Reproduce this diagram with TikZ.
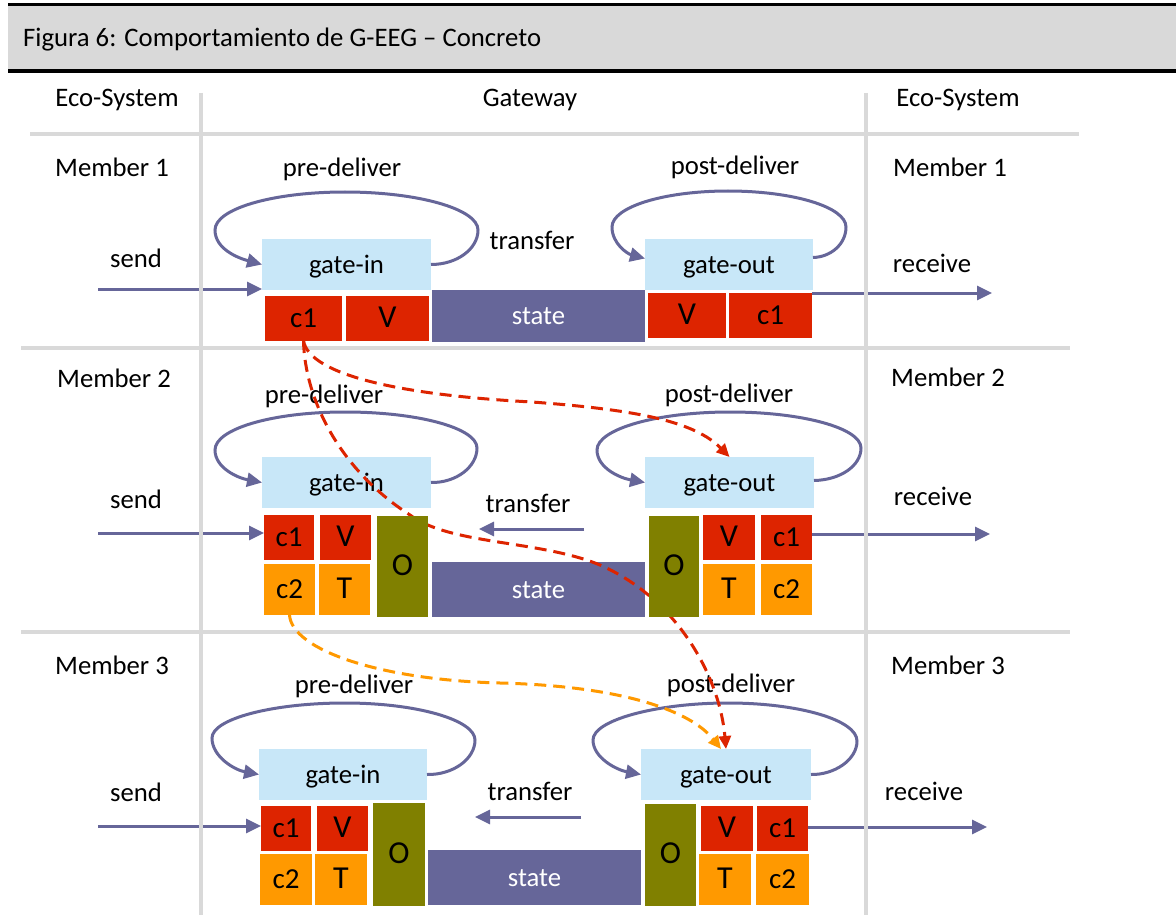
\documentclass[tikz,border=0pt]{standalone}
\usepackage{fontspec}
\setmainfont{Carlito}
\usetikzlibrary{arrows.meta}
\definecolor{cred}{RGB}{221,36,0}
\definecolor{corange}{RGB}{255,153,0}
\definecolor{colive}{RGB}{128,128,0}
\definecolor{cstate}{RGB}{102,102,153}
\definecolor{cblue}{RGB}{200,231,248}
\definecolor{cgray}{RGB}{217,217,217}
\definecolor{carrow}{RGB}{102,102,153}
\newcommand{\fs}{\fontsize{26.7}{30}\selectfont}
\newcommand{\fsb}{\fontsize{29}{33}\selectfont}
\newcommand{\fsc}{\fontsize{32}{36}\selectfont}
\newcommand{\mybox}[7]{\node[box,fill=#6,minimum width={#4pt-#2pt},minimum height={#5pt-#3pt}] (#1) at ({(#2+#4)/2},{(#3+#5)/2}) {#7};}
\begin{document}
\begin{tikzpicture}[x=1pt,y=-1pt,
  box/.style={inner sep=0pt, outer sep=0pt, font=\fs, text height=17pt, text depth=0pt, anchor=center},
  lbl/.style={inner sep=0pt, font=\fs, anchor=base},
  arr/.style={draw=carrow, line width=3pt, -{Triangle[length=15pt,width=14pt]}},
  sep/.style={draw=cgray, line width=3.5pt},
  dsh/.style={line width=3pt, dash pattern=on 12pt off 7pt, -{Triangle[length=13pt,width=12pt]}},
]
\fill[white] (0,0) rectangle (1176,915);
\useasboundingbox (0,0) rectangle (1176,915);
% header
\fill[cgray] (8,5) rectangle (1176,71);
\draw[line width=3pt] (8,5) -- (1176,5);
\draw[line width=3.5pt] (8,71) -- (1176,71);
\node[lbl, anchor=base west] (title) at (23,47) {Figura 6: Comportamiento de G-EEG – Concreto};
% headings
\node[lbl] (ecoL) at (117,107) {Eco-System};
\node[lbl] (gw) at (530,107) {Gateway};
\node[lbl] (ecoR) at (958,107) {Eco-System};
% row 1 labels
\node[lbl] (m1L) at (112,177) {Member 1};
\node[lbl] (m1R) at (950,177) {Member 1};
\node[lbl] (pre1) at (342,176) {pre-deliver};
\node[lbl] (post1) at (735,175) {post-deliver};
\node[lbl] (tr1) at (532,249) {transfer};
\node[lbl] (send1) at (136,267) {send};
\node[lbl] (rec1) at (932,272) {receive};
% row 2 labels
\node[lbl] (m2L) at (114,387) {Member 2};
\node[lbl] (m2R) at (948,386) {Member 2};
\node[lbl] (pre2) at (324,403) {pre-deliver};
\node[lbl] (post2) at (729,402) {post-deliver};
\node[lbl] (tr2) at (528,512) {transfer};
\node[lbl] (send2) at (136,508) {send};
\node[lbl] (rec2) at (933,505) {receive};
% row 3 labels
\node[lbl] (m3L) at (112,674) {Member 3};
\node[lbl] (m3R) at (948,674) {Member 3};
\node[lbl] (pre3) at (354,693) {pre-deliver};
\node[lbl] (post3) at (731,692) {post-deliver};
\node[lbl] (tr3) at (530,800) {transfer};
\node[lbl] (send3) at (136,801) {send};
\node[lbl] (rec3) at (924,800) {receive};
% row 1 boxes
\mybox{gin1}{262}{239}{431}{290}{cblue}{gate-in}
\mybox{c1L1}{265}{296}{342}{341}{cred}{\fsb c1}
\mybox{vL1}{346}{296}{429}{341}{cred}{\fsc V}
\mybox{st1}{432}{290}{645}{342}{cstate}{\color{white}state}
\mybox{gout1}{645}{239}{813}{290}{cblue}{gate-out}
\mybox{vR1}{648}{293}{726}{338}{cred}{\fsc V}
\mybox{c1R1}{729}{293}{812}{338}{cred}{\fsb c1}
% row 2 boxes
\mybox{gin2}{262}{457}{431}{508}{cblue}{gate-in}
\mybox{c1L2}{264}{515}{314}{560}{cred}{\fsb c1}
\mybox{vL2}{320}{515}{371}{560}{cred}{\fsc V}
\mybox{c2L2}{264}{564}{315}{615}{corange}{\fsb c2}
\mybox{tL2}{319}{564}{370}{615}{corange}{\fsc T}
\mybox{st2}{432}{562}{645}{617}{cstate}{\color{white}state}
\mybox{gout2}{645}{457}{814}{508}{cblue}{gate-out}
\mybox{vR2}{703}{515}{755}{560}{cred}{\fsc V}
\mybox{c1R2}{761}{515}{812}{560}{cred}{\fsb c1}
\mybox{tR2}{703}{564}{755}{615}{corange}{\fsc T}
\mybox{c2R2}{761}{564}{812}{615}{corange}{\fsb c2}
% row 3 boxes
\mybox{gin3}{259}{749}{427}{800}{cblue}{gate-in}
\mybox{c1L3}{261}{806}{311}{851}{cred}{\fsb c1}
\mybox{vL3}{317}{806}{368}{851}{cred}{\fsc V}
\mybox{c2L3}{260}{854}{312}{905}{corange}{\fsb c2}
\mybox{tL3}{315}{854}{367}{905}{corange}{\fsc T}
\mybox{st3}{428}{850}{641}{905}{cstate}{\color{white}state}
\mybox{gout3}{641}{749}{811}{800}{cblue}{gate-out}
\mybox{vR3}{701}{806}{753}{851}{cred}{\fsc V}
\mybox{c1R3}{757}{806}{808}{851}{cred}{\fsb c1}
\mybox{tR3}{699}{854}{751}{905}{corange}{\fsc T}
\mybox{c2R3}{756}{854}{809}{905}{corange}{\fsb c2}
% loops
\draw[arr] (gin1.east) .. controls (457,264.5) and (478,249) .. (478,230) .. controls (478,209) and (418,192) .. (345,192) .. controls (272,192) and (215,209) .. (215,230) .. controls (215,249) and (238,258) .. (gin1.west);
\draw[arr] ([yshift=7pt]gout1.east) .. controls (831,257) and (846,244) .. (846,227) .. controls (846,207) and (793,191) .. (728,191) .. controls (664,191) and (612,207) .. (612,227) .. controls (612,244) and (628,254) .. ([yshift=6pt]gout1.west);
\draw[arr] (gin2.east) .. controls (456,483) and (477,467) .. (477,448) .. controls (477,428) and (418,412) .. (345,412) .. controls (272,412) and (215,429) .. (215,450) .. controls (215,468) and (238,478) .. (gin2.west);
\draw[arr] ([yshift=2pt]gout2.east) .. controls (840,480) and (861,466) .. (861,448) .. controls (861,428) and (802,412) .. (730,412) .. controls (657,412) and (597,429) .. (597,450) .. controls (597,468) and (620,478) .. (gout2.west);
\draw[arr] (gin3.east) .. controls (453,775) and (475,759) .. (475,740) .. controls (475,720) and (417,703) .. (345,703) .. controls (272,703) and (212,719) .. (212,738) .. controls (212,757) and (235,770) .. (gin3.west);
\draw[arr] (gout3.east) .. controls (834,775) and (857,760) .. (857,741) .. controls (857,720) and (799,703) .. (728,703) .. controls (657,703) and (593,720) .. (593,740) .. controls (593,758) and (617,770) .. (gout3.west);
% send / receive / transfer arrows
\coordinate (snd1) at (98,289);
\coordinate (snd2) at (98,533);
\coordinate (snd3) at (98,826);
\coordinate (rcv1) at (992,293);
\coordinate (rcv2) at (990,534);
\coordinate (rcv3) at (987,827);
\coordinate (tA2) at (584,529);
\coordinate (tB2) at (479,529);
\coordinate (tA3) at (581,817);
\coordinate (tB3) at (475,817);
\draw[arr] (snd1) -- (snd1 -| gin1.west);
\draw[arr] (snd2) -- (snd2 -| c1L2.west);
\draw[arr] (snd3) -- (snd3 -| c1L3.west);
\draw[arr] (c1R1.east |- rcv1) -- (rcv1);
\draw[arr] (c1R2.east |- rcv2) -- (rcv2);
\draw[arr] (c1R3.east |- rcv3) -- (rcv3);
\draw[arr] (tA2) -- (tB2);
\draw[arr] (tA3) -- (tB3);
% separators
\draw[sep] (201,93) -- (201,915);
\draw[sep] (866,93) -- (866,915);
\draw[sep] (30,134) -- (1079,134);
\draw[sep] (21,348) -- (1070,348);
\draw[sep] (21,632) -- (1070,632);
% dashed flows
\draw[dsh, draw=cred] (c1L1.south) .. controls (310,375) and (400,395) .. (532,402) .. controls (640,410) and (695,422) .. (gout2.north);
\draw[dsh, draw=cred] (c1L1.south) .. controls (305,400) and (340,470) .. (410,515) .. controls (450,545) and (540,540) .. (600,565) .. controls (680,600) and (720,680) .. (gout3.north);
\draw[dsh, draw=corange] (c2L2.south) .. controls (292,650) and (380,680) .. (500,683) .. controls (620,686) and (690,710) .. ([xshift=-5pt]gout3.north);
% O boxes on top
\mybox{oL2}{377}{516}{428}{617}{colive}{\fsc O}
\mybox{oR2}{649}{516}{699}{617}{colive}{\fsc O}
\mybox{oL3}{373}{803}{425}{906}{colive}{\fsc O}
\mybox{oR3}{645}{804}{696}{906}{colive}{\fsc O}
\end{tikzpicture}
\end{document}
